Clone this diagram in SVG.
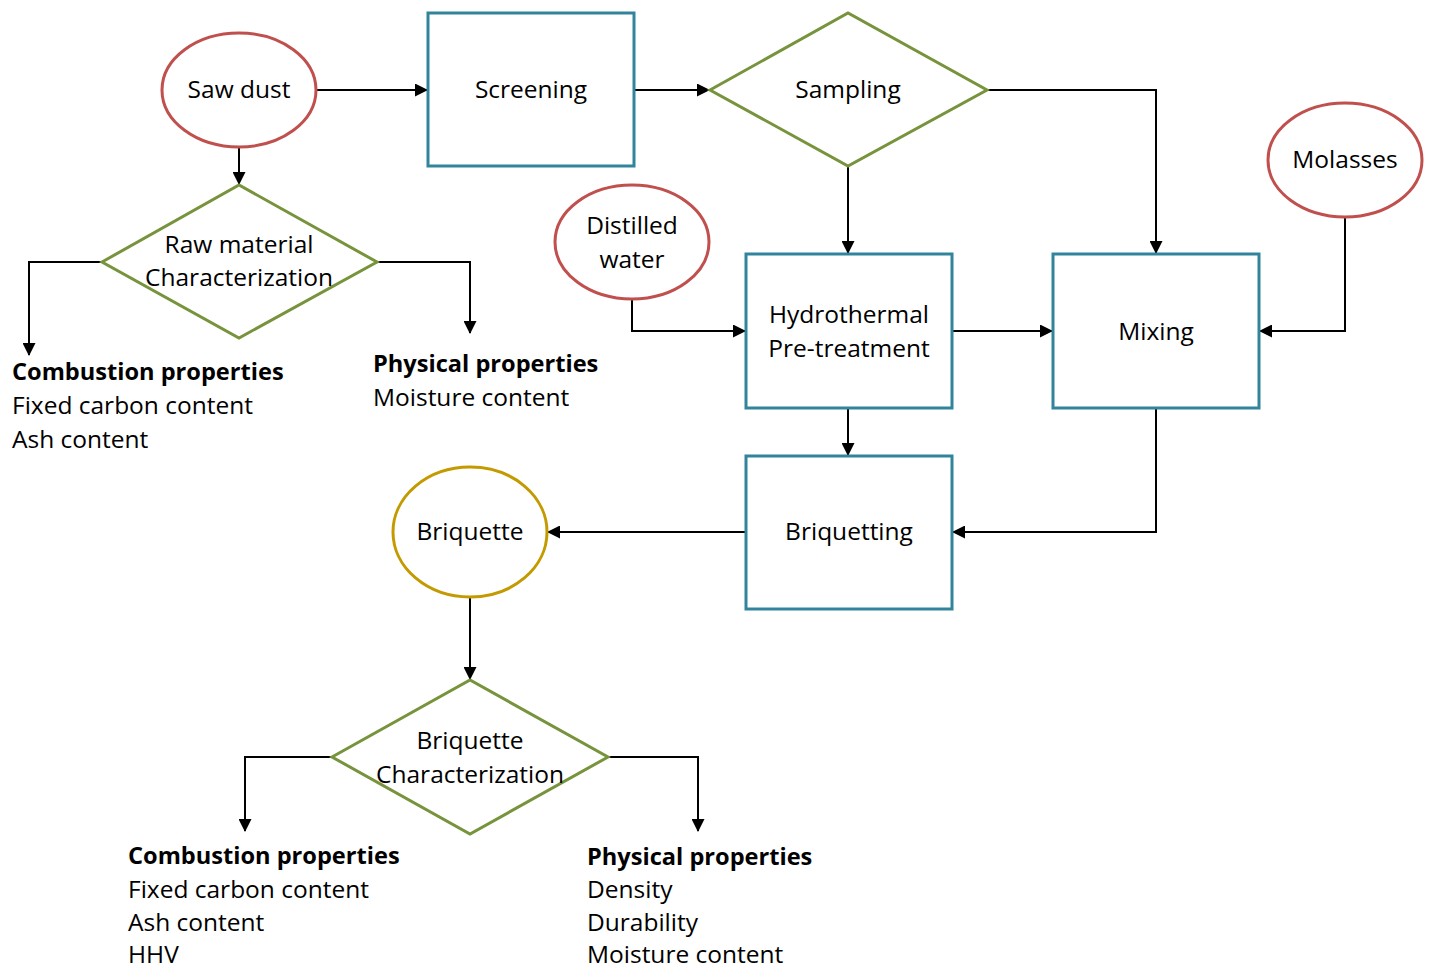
<svg xmlns="http://www.w3.org/2000/svg" width="1431" height="970" viewBox="0 0 1431 970">
<defs>
<marker id="arr" markerWidth="13" markerHeight="13" refX="12" refY="6.5" orient="auto" markerUnits="userSpaceOnUse">
<path d="M0,0 L13,6.5 L0,13 Z" fill="#000"/>
</marker>
<style>
.t{font-family:"Open Sans","Noto Sans",sans-serif;font-size:24.5px;fill:#000;text-anchor:middle}
.l{font-family:"Open Sans","Noto Sans",sans-serif;font-size:24.5px;fill:#000}
.b{font-weight:bold;font-size:23.6px}
.red{fill:#fff;stroke:#C0504D;stroke-width:3}
.gold{fill:#fff;stroke:#C39A00;stroke-width:3}
.box{fill:#fff;stroke:#31849B;stroke-width:3}
.dia{fill:#fff;stroke:#77933C;stroke-width:3}
.c{fill:none;stroke:#000;stroke-width:2;marker-end:url(#arr)}
</style>
</defs>
<rect width="1431" height="970" fill="#fff"/>
<g id="connectors">
<path class="c" d="M316,90 H427"/>
<path class="c" d="M239,147 V184"/>
<path class="c" d="M102,262 H29 V355"/>
<path class="c" d="M377,262 H470 V333"/>
<path class="c" d="M634,90 H709"/>
<path class="c" d="M987,90 H1156 V253"/>
<path class="c" d="M848,166 V253"/>
<path class="c" d="M632,299 V331 H745"/>
<path class="c" d="M952,331 H1052"/>
<path class="c" d="M1345,217 V331 H1260"/>
<path class="c" d="M848,408 V455"/>
<path class="c" d="M1156,408 V532 H953"/>
<path class="c" d="M746,532 H548"/>
<path class="c" d="M470,597 V679"/>
<path class="c" d="M332,757 H245 V831"/>
<path class="c" d="M608,757 H698 V831"/>
</g>
<g id="sawdust"><ellipse class="red" cx="239" cy="90" rx="77" ry="57"/><text class="t" x="239" y="98">Saw dust</text></g>
<g id="screening"><rect class="box" x="428" y="13" width="206" height="153"/><text class="t" x="531" y="98">Screening</text></g>
<g id="sampling"><polygon class="dia" points="710,90 848,13 987,90 848,166"/><text class="t" x="848" y="98">Sampling</text></g>
<g id="molasses"><ellipse class="red" cx="1345" cy="160" rx="77" ry="57"/><text class="t" x="1345" y="168">Molasses</text></g>
<g id="distilled"><ellipse class="red" cx="632" cy="242" rx="77" ry="57"/><text class="t" x="632" y="234">Distilled</text><text class="t" x="632" y="268">water</text></g>
<g id="rawchar"><polygon class="dia" points="102,262 239,185 377,262 239,338"/><text class="t" x="239" y="253">Raw material</text><text class="t" x="239" y="286">Characterization</text></g>
<g id="hydro"><rect class="box" x="746" y="254" width="206" height="154"/><text class="t" x="849" y="323">Hydrothermal</text><text class="t" x="849" y="357">Pre-treatment</text></g>
<g id="mixing"><rect class="box" x="1053" y="254" width="206" height="154"/><text class="t" x="1156" y="340">Mixing</text></g>
<g id="briquetting"><rect class="box" x="746" y="456" width="206" height="153"/><text class="t" x="849" y="540">Briquetting</text></g>
<g id="briquette"><ellipse class="gold" cx="470" cy="532" rx="77" ry="65"/><text class="t" x="470" y="540">Briquette</text></g>
<g id="brichar"><polygon class="dia" points="332,757 470,680 608,757 470,834"/><text class="t" x="470" y="749">Briquette</text><text class="t" x="470" y="783">Characterization</text></g>
<g id="raw-combustion"><text class="l b" x="12" y="380">Combustion properties</text><text class="l" x="12" y="414">Fixed carbon content</text><text class="l" x="12" y="448">Ash content</text></g>
<g id="raw-physical"><text class="l b" x="373" y="372">Physical properties</text><text class="l" x="373" y="406">Moisture content</text></g>
<g id="bri-combustion"><text class="l b" x="128" y="864">Combustion properties</text><text class="l" x="128" y="898">Fixed carbon content</text><text class="l" x="128" y="931">Ash content</text><text class="l" x="128" y="963">HHV</text></g>
<g id="bri-physical"><text class="l b" x="587" y="865">Physical properties</text><text class="l" x="587" y="898">Density</text><text class="l" x="587" y="931">Durability</text><text class="l" x="587" y="963">Moisture content</text></g>
</svg>
